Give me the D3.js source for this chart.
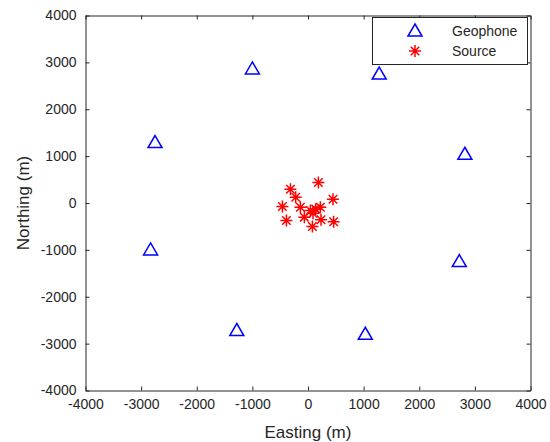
<!DOCTYPE html>
<html>
<head>
<meta charset="utf-8">
<script src="https://cdn.jsdelivr.net/npm/d3@7"></script>
<style>
  body { margin: 0; background: #fff; }
  text { font-family: "Liberation Sans", Arial, sans-serif; fill: #262626; }
</style>
</head>
<body>
<svg id="chart" width="550" height="442"></svg>
<script>
// geophone stations (easting, northing) in metres
const geoEast = [-1000, 1280, -2750, 2820, -2830, 2720, -1280, 1030]
const geoNorth = [2860, 2750, 1290, 1040, -1000, -1250, -2720, -2800]

// source locations
const srcEast = [187, -316, -221, 449, -460, -137, 43, 138, 222, 90, -65, -388, 234, 461, 79]
const srcNorth = [437, 294, 124, 81, -75, -89, -160, -131, -89, -217, -302, -373, -359, -401, -501]

const ticks = [-4000, -3000, -2000, -1000, 0, 1000, 2000, 3000, 4000]

const svg = d3.select("#chart")
const LEFT = 85.5, RIGHT = 530.5, TOP = 15.5, BOTTOM = 390.5
const AXIS_COLOR = "#262626"

let xs = d3.scaleLinear().domain([-4000, 4000]).range([LEFT, RIGHT])
let ys = d3.scaleLinear().domain([-4000, 4000]).range([BOTTOM, TOP])

// frame with inward ticks on all four sides
const axes = [
    [d3.axisBottom(xs), `translate(0,${BOTTOM})`],
    [d3.axisTop(xs), `translate(0,${TOP})`],
    [d3.axisLeft(ys), `translate(${LEFT},0)`],
    [d3.axisRight(ys), `translate(${RIGHT},0)`]
]
axes.forEach(([ax, tr], i) => {
    let g = svg.append("g")
        .attr("transform", tr)
        .call(ax.tickValues(ticks).tickFormat(d => String(d))
            .tickSizeInner(-4).tickSizeOuter(0).tickPadding(9))
    g.select(".domain").attr("stroke", AXIS_COLOR)
    g.selectAll(".tick line").attr("stroke", AXIS_COLOR)
    g.selectAll(".tick text")
        .style("font-size", "14px")
        .attr("fill", AXIS_COLOR)
    if (i === 1 || i === 3) g.selectAll(".tick text").remove()
})

svg.append("text")
    .text("Easting (m)")
    .attr("x", (LEFT + RIGHT) / 2)
    .attr("y", 438)
    .style("font-size", "17px")
    .style("text-anchor", "middle")

svg.append("text")
    .text("Northing (m)")
    .attr("transform", `translate(29,${(TOP + BOTTOM) / 2}) rotate(-90)`)
    .style("font-size", "17px")
    .style("text-anchor", "middle")

// marker shapes
const triPath = "M0,-7L7,5L-7,5Z"
const starPath = (r) => {
    let d = ""
    for (let k = 0; k < 4; ++k) {
        let a = k * Math.PI / 4
        let dx = r * Math.cos(a), dy = r * Math.sin(a)
        d += `M${-dx},${-dy}L${dx},${dy}`
    }
    return d
}

const geophones = geoEast.map((e, i) => ({ e: e, n: geoNorth[i] }))
const sources = srcEast.map((e, i) => ({ e: e, n: srcNorth[i] }))

svg.selectAll(".geo")
    .data(geophones)
    .enter()
    .append("path")
    .attr("d", triPath)
    .attr("transform", d => `translate(${xs(d.e)},${ys(d.n)})`)
    .style("fill", "none")
    .style("stroke", "#0000ff")
    .style("stroke-width", 1.5)

svg.selectAll(".src")
    .data(sources)
    .enter()
    .append("path")
    .attr("d", starPath(6))
    .attr("transform", d => `translate(${xs(d.e)},${ys(d.n)})`)
    .style("fill", "none")
    .style("stroke", "#ff0000")
    .style("stroke-width", 1.5)

// legend
const lg = svg.append("g")
lg.append("rect")
    .attr("x", 372.5).attr("y", 17.5)
    .attr("width", 155).attr("height", 47)
    .style("fill", "white")
    .style("stroke", AXIS_COLOR)
    .style("stroke-width", 1)
lg.append("path")
    .attr("d", triPath)
    .attr("transform", "translate(415,31)")
    .style("fill", "none")
    .style("stroke", "#0000ff")
    .style("stroke-width", 1.5)
lg.append("path")
    .attr("d", starPath(6))
    .attr("transform", "translate(415,51)")
    .style("fill", "none")
    .style("stroke", "#ff0000")
    .style("stroke-width", 1.5)
lg.append("text").text("Geophone")
    .attr("x", 452).attr("y", 36)
    .style("font-size", "14px")
lg.append("text").text("Source")
    .attr("x", 452).attr("y", 56)
    .style("font-size", "14px")
</script>
</body>
</html>
